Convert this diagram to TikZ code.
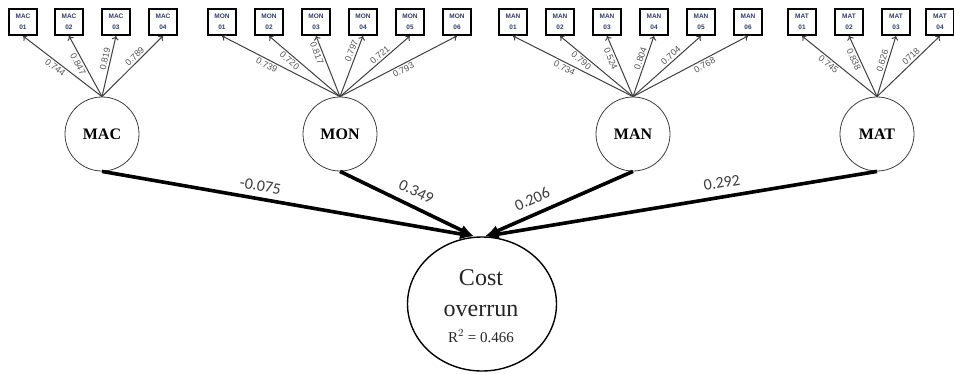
\documentclass[tikz,border=0pt]{standalone}
\usepackage{fontspec}
\setmainfont{Liberation Serif}
\setsansfont{Liberation Sans}
\newfontfamily\carlito{Carlito}
\usetikzlibrary{shapes.geometric,arrows.meta}
\definecolor{boxtxt}{RGB}{55,60,100}
\definecolor{loadgray}{RGB}{85,85,85}
\definecolor{pathtxt}{RGB}{60,60,60}
\begin{document}
\begin{tikzpicture}[x=1pt,y=-1pt,
  ind/.style={draw, line width=1.9pt, minimum width=28pt, minimum height=26pt, inner sep=0pt, align=center,
    font=\sffamily\bfseries\fontsize{6.5}{10.5}\selectfont, text=boxtxt},
  lat/.style={circle, draw=black!75, line width=0.8pt, minimum size=74pt, inner sep=0pt,
    font=\bfseries\fontsize{16}{17}\selectfont},
  load/.style={draw=black!75, line width=1pt, -{To[length=4pt,width=7pt]}},
  lv/.style={font=\sffamily\fontsize{9}{9}\selectfont, text=loadgray, sloped, inner sep=1.8pt},
  pth/.style={line width=3.6pt, -{Latex[length=14pt,width=11pt]}},
  pv/.style={font=\carlito\fontsize{16}{16}\selectfont, text=pathtxt, inner sep=0pt, sloped},
  ctext/.style={anchor=base, inner sep=0pt, text=black!85}
]
\fill[white] (0,0) rectangle (954,373);
\useasboundingbox (0,0) rectangle (954,373);

% indicator boxes
\foreach \n/\x in {1/23,2/69,3/116,4/163}
  \node[ind] (mac\n) at (\x,22) {MAC\\0\n};
\foreach \n/\x in {1/222,2/269,3/316,4/363,5/410,6/457}
  \node[ind] (mon\n) at (\x,22) {MON\\0\n};
\foreach \n/\x in {1/513,2/560,3/607,4/654,5/701,6/748}
  \node[ind] (man\n) at (\x,22) {MAN\\0\n};
\foreach \n/\x in {1/802,2/849,3/896,4/940}
  \node[ind] (mat\n) at (\x,22) {MAT\\0\n};

% latent constructs
\node[lat] (mac) at (102,134) {MAC};
\node[lat] (mon) at (340,134) {MON};
\node[lat] (man) at (633,134) {MAN};
\node[lat] (mat) at (877,134) {MAT};

\node[ellipse, draw, line width=1.4pt, minimum width=149pt, minimum height=134pt, inner sep=0pt]
  (cost) at (482,304) {};
\node[ctext, font=\fontsize{24}{24}\selectfont] (costa) at (481,285) {Cost};
\node[ctext, font=\fontsize{24}{24}\selectfont] (costb) at (481,316) {overrun};
\node[ctext, font=\fontsize{15}{15}\selectfont] (costc) at (481,342) {R$^2$ = 0.466};

% loadings
\foreach \n/\v/\s/\p in {1/0.744/below/0.55, 2/0.847/below/0.58, 3/0.819/above/0.6, 4/0.789/above/0.6}
  \draw[load] (mac.north) -- (mac\n.south) node[lv,\s,pos=\p] {\v};
\foreach \n/\v/\s/\p in {1/0.739/below/0.6, 2/0.720/below/0.66, 3/0.817/below/0.75, 4/0.797/above/0.72, 5/0.721/above/0.62, 6/0.793/below/0.52}
  \draw[load] (mon.north) -- (mon\n.south) node[lv,\s,pos=\p] {\v};
\foreach \n/\v/\s/\p in {1/0.734/below/0.55, 2/0.790/below/0.66, 3/0.524/below/0.66, 4/0.804/above/0.6, 5/0.704/above/0.61, 6/0.768/below/0.6}
  \draw[load] (man.north) -- (man\n.south) node[lv,\s,pos=\p] {\v};
\foreach \n/\v/\s/\p in {1/0.745/below/0.6, 2/0.838/below/0.65, 3/0.626/above/0.56, 4/0718/above/0.6}
  \draw[load] (mat.north) -- (mat\n.south) node[lv,\s,pos=\p] {\v};

% structural paths
\coordinate (tipL) at ([xshift=-8pt]cost.north);
\coordinate (tipR) at ([xshift=3pt]cost.north);
\draw[pth] (mac.south) -- (tipL) node[pv, pos=0.42, above=6pt] {-0.075};
\draw[pth] (mon.south) -- (tipL) node[pv, pos=0.52, above=8pt] {0.349};
\draw[pth] (man.south) -- (tipR) node[pv, pos=0.64, above=8pt] {0.206};
\draw[pth] (mat.south) -- (tipR) node[pv, pos=0.39, above=7pt] {0.292};
\end{tikzpicture}
\end{document}
